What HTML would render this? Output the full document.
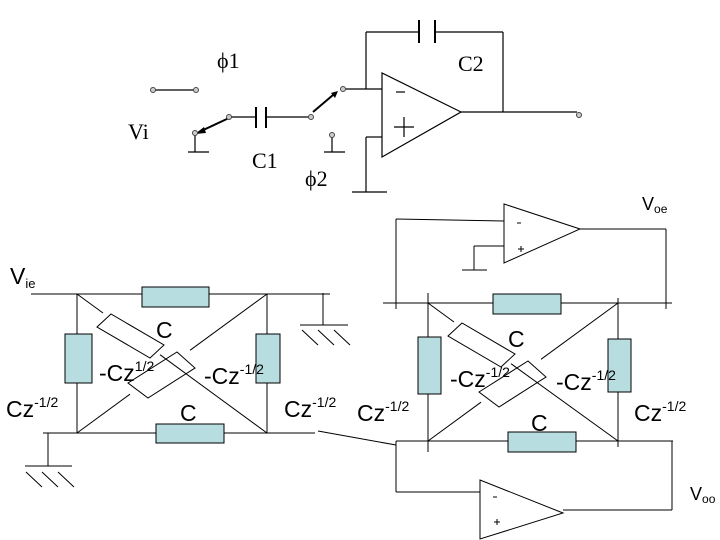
<!DOCTYPE html>
<html><head><style>
body{margin:0;background:#fff}
svg{display:block}
.s{font-family:"Liberation Serif",serif}
.a{font-family:"Liberation Sans",sans-serif}
</style></head><body>
<svg width="720" height="540" viewBox="0 0 720 540" xmlns="http://www.w3.org/2000/svg">
<g stroke="#000" stroke-width="1.2" fill="none">
<line x1="153" y1="90" x2="196" y2="90"/>
<line x1="195" y1="133" x2="195" y2="152"/><line x1="188" y1="152" x2="209" y2="152"/>
<line x1="229" y1="117" x2="256" y2="117"/><line x1="256" y1="107" x2="256" y2="128" stroke-width="2"/>
<line x1="266" y1="107" x2="266" y2="128" stroke-width="2"/><line x1="266" y1="117" x2="311" y2="117"/>
<line x1="343" y1="89" x2="382" y2="89"/>
<line x1="366" y1="89" x2="366" y2="32"/><line x1="366" y1="32" x2="419" y2="32"/>
<line x1="419" y1="20" x2="419" y2="43" stroke-width="2"/><line x1="435" y1="20" x2="435" y2="43" stroke-width="2"/>
<line x1="435" y1="32" x2="503" y2="32"/><line x1="503" y1="32" x2="503" y2="112"/>
<polygon points="382,73 382,157 461,112"/>
<line x1="461" y1="112" x2="577" y2="112"/>
<line x1="332" y1="135" x2="332" y2="152"/><line x1="324" y1="152" x2="345" y2="152"/>
<line x1="382" y1="137" x2="366" y2="137"/><line x1="366" y1="137" x2="366" y2="192"/><line x1="352" y1="192" x2="387" y2="192"/>
<line x1="229" y1="118" x2="199" y2="132" stroke-width="2"/>
<line x1="313" y1="112" x2="333" y2="95" stroke-width="2"/>
<line x1="396" y1="92" x2="405" y2="92"/>
<line x1="394" y1="127" x2="414" y2="127"/><line x1="404" y1="117" x2="404" y2="137"/>
</g>
<g fill="#000">
<polygon points="195,134 204,127 206,133"/>
<polygon points="338,91 331,93 335,98"/>
</g>
<g fill="#ccc" stroke="#444" stroke-width="1">
<circle cx="153" cy="90" r="2.5"/><circle cx="196" cy="90" r="2.5"/><circle cx="195" cy="133" r="2.5"/>
<circle cx="229" cy="117" r="2.5"/><circle cx="311" cy="117" r="2.5"/><circle cx="343" cy="89" r="2.5"/>
<circle cx="332" cy="135" r="2.5"/><circle cx="579" cy="115" r="2.5"/>
</g>
<g class="s" font-size="22" fill="#000">
<text x="217" y="68">ϕ1</text><text x="458" y="71">C2</text>
<text x="128" y="139">Vi</text><text x="252" y="168">C1</text><text x="305" y="186">ϕ2</text>
</g>

<g stroke="#000" stroke-width="1" fill="none">
<line x1="31" y1="294" x2="330" y2="294"/>
<line x1="77" y1="294" x2="77" y2="433"/><line x1="267" y1="294" x2="267" y2="433"/>
<line x1="43" y1="433" x2="315" y2="433"/>
<line x1="318" y1="431" x2="396" y2="445"/>
<line x1="77" y1="294" x2="103" y2="313"/><line x1="160" y1="354.7" x2="267" y2="433"/>
<line x1="77" y1="433" x2="130" y2="394.2"/><line x1="190" y1="350.3" x2="267" y2="294"/>
<polygon points="97,327 111,314 164,345 150,358"/>
<polygon points="177,352 195,368 148,398 128,383"/>
<line x1="323" y1="293" x2="323" y2="325"/><line x1="300" y1="325" x2="348" y2="325"/>
<line x1="302" y1="330" x2="318" y2="345"/><line x1="318" y1="330" x2="334" y2="345"/><line x1="334" y1="330" x2="350" y2="345"/>
<line x1="48" y1="433" x2="48" y2="466"/><line x1="25" y1="466" x2="72" y2="466"/>
<line x1="26" y1="472" x2="42" y2="487"/><line x1="42" y1="472" x2="58" y2="487"/><line x1="58" y1="472" x2="74" y2="487"/>
</g>
<g fill="#b7dde0" stroke="#000" stroke-width="1">
<rect x="142" y="287" width="67" height="20"/>
<rect x="65" y="334" width="27" height="49"/>
<rect x="256" y="334" width="24" height="49"/>
<rect x="156" y="424" width="68" height="19"/>
</g>

<g stroke="#000" stroke-width="1" fill="none">
<line x1="383" y1="303" x2="672" y2="303"/>
<line x1="396" y1="297" x2="396" y2="309"/><line x1="666" y1="297" x2="666" y2="309"/>
<line x1="428" y1="293" x2="428" y2="452"/><line x1="618" y1="298" x2="618" y2="447"/>
<line x1="396" y1="441" x2="673" y2="441"/>
<line x1="428" y1="303" x2="454" y2="322"/><line x1="511" y1="363.7" x2="618" y2="441"/>
<line x1="428" y1="441" x2="481" y2="402.2"/><line x1="541" y1="359.3" x2="618" y2="303"/>
<polygon points="448,336 462,323 515,354 501,367"/>
<polygon points="528,361 546,377 499,407 479,392"/>
<polygon points="504,204 504,263 580,229"/>
<line x1="504" y1="221" x2="396" y2="219"/><line x1="396" y1="219" x2="396" y2="303"/>
<line x1="580" y1="229" x2="666" y2="229"/><line x1="666" y1="229" x2="666" y2="303"/>
<line x1="504" y1="246" x2="474" y2="246"/><line x1="474" y1="246" x2="474" y2="270"/><line x1="462" y1="270" x2="487" y2="270"/>
<polygon points="480,480 480,539 563,513"/>
<line x1="480" y1="492" x2="396" y2="492"/><line x1="396" y1="492" x2="396" y2="441"/>
<line x1="563" y1="510" x2="672" y2="510"/><line x1="672" y1="441" x2="672" y2="510"/>
<line x1="517" y1="223" x2="521" y2="223"/><line x1="518" y1="249" x2="524" y2="249"/><line x1="521" y1="246" x2="521" y2="252"/>
<line x1="493" y1="497" x2="497" y2="497"/><line x1="494" y1="522" x2="500" y2="522"/><line x1="497" y1="519" x2="497" y2="525"/>
</g>
<g fill="#b7dde0" stroke="#000" stroke-width="1">
<rect x="493" y="294" width="68" height="20"/>
<rect x="418" y="337" width="23" height="57"/>
<rect x="608" y="339" width="23" height="53"/>
<rect x="508" y="432" width="68" height="20"/>
</g>

<g class="a" fill="#000" font-size="23">
<text x="10" y="284">V<tspan font-size="13" dy="4">ie</tspan></text>
<text x="156" y="338">C</text>
<text x="99" y="381">-Cz<tspan font-size="14" dy="-10">1/2</tspan></text>
<text x="204" y="384">-Cz<tspan font-size="14" dy="-10">-1/2</tspan></text>
<text x="6" y="417">Cz<tspan font-size="14" dy="-10">-1/2</tspan></text>
<text x="180" y="421">C</text>
<text x="284" y="417">Cz<tspan font-size="14" dy="-10">-1/2</tspan></text>
<text x="508" y="347">C</text>
<text x="450" y="387">-Cz<tspan font-size="14" dy="-10">-1/2</tspan></text>
<text x="556" y="390">-Cz<tspan font-size="14" dy="-10">-1/2</tspan></text>
<text x="357" y="421">Cz<tspan font-size="14" dy="-10">-1/2</tspan></text>
<text x="634" y="421">Cz<tspan font-size="14" dy="-10">-1/2</tspan></text>
<text x="531" y="431">C</text>
<text x="642" y="210" font-size="18">V<tspan font-size="12" dy="3">oe</tspan></text>
<text x="690" y="500" font-size="18">V<tspan font-size="12" dy="3">oo</tspan></text>
</g>
</svg>
</body></html>
